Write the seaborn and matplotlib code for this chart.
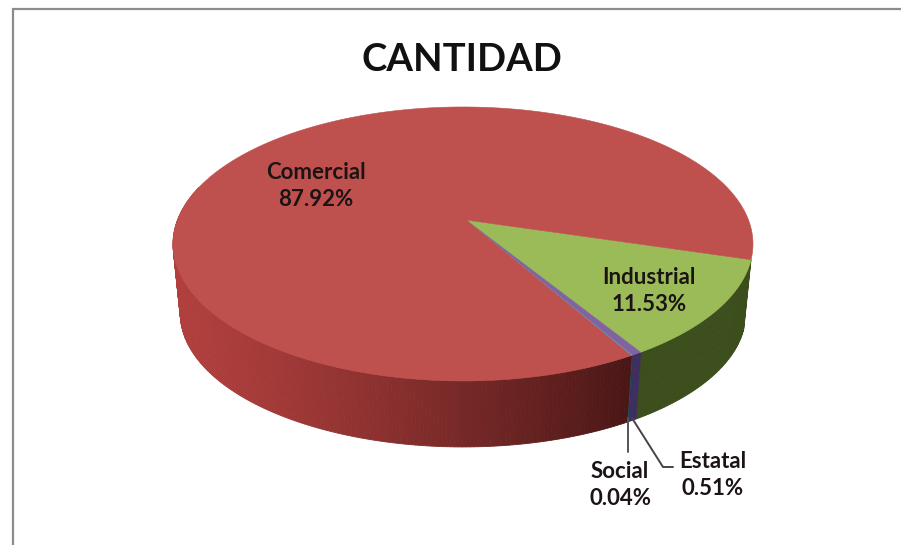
import numpy as np
import matplotlib
matplotlib.use("Agg")
import matplotlib.pyplot as plt
from matplotlib.colors import to_rgb
import seaborn as sns

# ---- data (clockwise order) ----
categories = ["Comercial", "Industrial", "Estatal", "Social"]
shares = [87.92, 11.53, 0.51, 0.04]
title = "CANTIDAD"

# ---- style ----
top_colors = ["#BE504E", "#9BBB59", "#8064A2", "#4BACC6"]
side_light = ["#B03F3D", "#465A22", "#4A3A70", "#2A6070"]
side_dark = ["#4A1716", "#3C4E1C", "#3D2F5E", "#24505C"]
text_color = "#1C1414"

sns.set_theme(style="white")
plt.rcParams["font.family"] = ["Lato", "DejaVu Sans"]

fig, ax = plt.subplots(figsize=(9.01, 5.45), dpi=100)
fig.subplots_adjust(0, 0, 1, 1)
ax.set_xlim(0, 901)
ax.set_ylim(545, 0)
ax.axis("off")

# ---- perspective model of the tilted disc ----
APEX_X, APEX_Y = 463, 220
SX, SY, K = 285.5, 132.8, 0.175
DEPTH, FLOOR_SCALE = 70, 0.975
START_DEG = -16.5          # the edge between Comercial and Industrial


def project(deg, radius=1.0, floor=False):
    t = np.radians(deg)
    x, y = radius * np.cos(t), radius * np.sin(t)
    d = 1 + K * y
    px, py = SX * x / d, -SY * y / d
    if floor:
        return APEX_X + FLOOR_SCALE * px, APEX_Y + DEPTH + FLOOR_SCALE * py
    return APEX_X + px, APEX_Y + py


# slice angle ranges, going clockwise; Industrial starts at START_DEG
fractions = np.array(shares) / np.sum(shares)
spans = fractions * 360
order = [1, 2, 3, 0]
ranges = {}
angle = START_DEG
for i in order:
    ranges[i] = (angle, angle - spans[i])
    angle -= spans[i]

# ---- side wall, painted from the back to the front ----
wall_min, wall_max = 165, 380
for i in order:
    a0, a1 = ranges[i]
    lo, hi = min(a0, a1), max(a0, a1)
    # compare the slice with the visible wall, wrapping the angle
    for shift in (0, 360, -360):
        s_lo, s_hi = max(lo + shift, wall_min), min(hi + shift, wall_max)
        if s_hi <= s_lo:
            continue
        n = max(2, int((s_hi - s_lo) * 1.5))
        grid = np.linspace(s_lo, s_hi, n + 1)
        c0 = np.array(to_rgb(side_light[i]))
        c1 = np.array(to_rgb(side_dark[i]))
        for g0, g1 in zip(grid[:-1], grid[1:]):
            xa, ya = project(g0)
            xb, yb = project(g1)
            xc, yc = project(g1, floor=True)
            xd, yd = project(g0, floor=True)
            mid = (xa + xb) / 2
            # shade from left to right along the front of the disc
            u = np.clip((mid - 180) / (630 - 180), 0, 1) ** 1.25
            col = c0 + (c1 - c0) * u
            ax.fill([xa, xb, xc, xd], [ya, yb, yc, yd], color=col, lw=0.6, zorder=2)

# ---- top face ----
for i in order:
    a0, a1 = ranges[i]
    grid = np.linspace(a0, a1, max(3, int(abs(a1 - a0) * 2)))
    xs, ys = project(grid)
    ax.fill(np.r_[APEX_X + 3, xs], np.r_[APEX_Y, ys], color=top_colors[i], lw=0.4, zorder=3)

# ---- leader lines ----
ax.plot([628, 628], [418, 452], color="#555555", lw=1.4, zorder=4)
ax.plot([632, 663, 673], [418, 467, 467], color="#444444", lw=1.4, zorder=4)

# ---- text ----
ax.text(462, 60, title, ha="center", va="center", fontsize=27.5,
        fontweight="bold", color="#111111", zorder=5)
label_pos = {"Comercial": (316, 186), "Industrial": (649, 291),
             "Estatal": (713, 475), "Social": (620, 485)}
for name, share in zip(categories, shares):
    x, y = label_pos[name]
    ax.text(x, y, f"{name}\n{share:.2f}%", ha="center", va="center",
            fontsize=16, fontweight="bold", color=text_color,
            linespacing=1.33, zorder=5)

# ---- frame: only top and left fall inside the image ----
ax.plot([13, 13, 901], [545, 9, 9], color="#8C8C8C", lw=1.6, zorder=1,
        solid_joinstyle="miter")

fig.savefig("out.png", dpi=100, facecolor="white")
